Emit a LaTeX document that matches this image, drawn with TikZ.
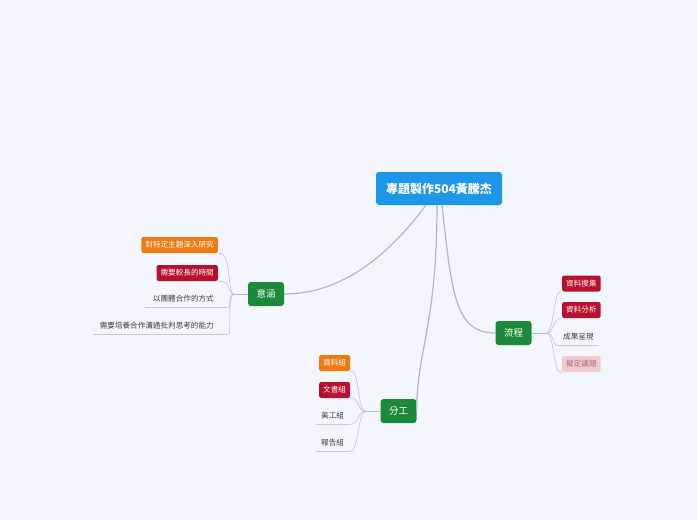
\documentclass[tikz,border=0pt]{standalone}
\usepackage{fontspec}
\setmainfont{Noto Sans CJK TC}
\definecolor{bgblue}{HTML}{F4F6FD}
\definecolor{rootblue}{HTML}{1E97E9}
\definecolor{topicgreen}{HTML}{1D8A3B}
\definecolor{leaforange}{HTML}{EF7B10}
\definecolor{leafred}{HTML}{B8112E}
\definecolor{leafpink}{HTML}{F1CBD0}
\definecolor{pinktext}{HTML}{A0707A}
\definecolor{linegrey}{HTML}{B4B7BC}
\definecolor{leafline}{HTML}{C8CBD2}
\tikzset{
  rootbox/.style={fill=rootblue, text=white, rounded corners=3pt, minimum width=126pt,
    minimum height=33pt, font=\fontsize{12}{14}\selectfont\bfseries},
  topicbox/.style={fill=topicgreen, text=white, rounded corners=3pt, minimum width=36pt,
    minimum height=24pt, font=\fontsize{9.5}{11}\selectfont},
  leafbox/.style={rounded corners=2pt, text=white, inner xsep=4pt, minimum height=16pt,
    font=\fontsize{7.6}{8}\selectfont},
  leafplain/.style={text=black!75, inner xsep=5pt, minimum height=16pt,
    font=\fontsize{7.6}{8}\selectfont},
  mainline/.style={draw=linegrey, line width=1.2pt},
  subline/.style={draw=leafline, line width=0.7pt}
}
\begin{document}
\begin{tikzpicture}[x=1pt, y=-1pt]
  % background
  \fill[bgblue] (0,0) rectangle (697,520);

  % root and main topics
  \node[rootbox] (root) at (439,188.5) {專題製作504黃騰杰};
  \node[topicbox] (yihan) at (266,294) {意涵};
  \node[topicbox] (fengong) at (398.5,411) {分工};
  \node[topicbox] (liucheng) at (513.5,333) {流程};

  \draw[mainline] ([xshift=-13pt]root.south) .. controls +(-45,60) and +(50,0) .. (yihan.east);
  \draw[mainline] ([xshift=-2pt]root.south) .. controls +(0,120) and +(0,-60) .. (fengong.east);
  \draw[mainline] ([xshift=3pt]root.south) .. controls +(10,90) and +(-40,0) .. (liucheng.west);

  % 意涵 leaves
  \node[leafbox, fill=leaforange, anchor=east] (yh1) at (218,245) {對特定主題深入研究};
  \node[leafbox, fill=leafred, anchor=east] (yh2) at (218,273) {需要較長的時間};
  \node[leafplain, anchor=east] (yh3) at (219,299) {以團體合作的方式};
  \node[leafplain, anchor=east] (yh4) at (219,326) {需要培養合作溝通批判思考的能力};
  \coordinate (yh1e) at (yh1.south east);
  \coordinate (yh2e) at (yh2.south east);
  \coordinate (yh3e) at ([xshift=8pt]yh3.south east);
  \coordinate (yh4e) at ([xshift=8pt]yh4.south east);
  \draw[subline] ([xshift=-3pt]yh3.south west) -- (yh3e);
  \draw[subline] ([xshift=-2pt]yh4.south west) -- (yh4e);
  \draw[mainline, line width=0.9pt] (yihan.west) -- ++(-14,0) coordinate (yhj);
  \foreach \c in {yh1e,yh2e,yh3e,yh4e}
    \draw[subline] (yhj) .. controls ([xshift=-6pt]yhj) and ([xshift=-3pt]yhj |- \c) .. ([xshift=2pt]\c) -- (\c);

  % 分工 leaves
  \node[leafbox, fill=leaforange, anchor=west] (fg1) at (319,363) {資料組};
  \node[leafbox, fill=leafred, anchor=west] (fg2) at (319,390) {文書組};
  \node[leafplain, anchor=west] (fg3) at (316,416) {美工組};
  \node[leafplain, anchor=west] (fg4) at (316,443) {報告組};
  \draw[subline] (fg3.south west) -- (fg3.south east);
  \draw[subline] (fg4.south west) -- (fg4.south east);
  \draw[mainline, line width=0.9pt] (fengong.west) -- ++(-15,0) coordinate (fgj);
  \foreach \c in {fg1,fg2,fg3,fg4}
    \draw[subline] (fgj) .. controls ([xshift=-7pt]fgj) and ([xshift=-7pt]fgj |- \c.south) .. ([xshift=2pt]\c.south east) -- (\c.south east);

  % 流程 leaves
  \node[leafbox, fill=leafred, anchor=west] (lc1) at (562,283.5) {資料搜集};
  \node[leafbox, fill=leafred, anchor=west] (lc2) at (562,310) {資料分析};
  \node[leafplain, anchor=west] (lc3) at (558,337) {成果呈現};
  \node[leafbox, fill=leafpink, text=pinktext, anchor=west] (lc4) at (562,364) {擬定議題};
  \draw[subline] (lc3.south west) -- (lc3.south east);
  \draw[mainline, line width=0.9pt] (liucheng.east) -- ++(15,0) coordinate (lcj);
  \foreach \c in {lc1,lc2,lc3,lc4}
    \draw[subline] (lcj) .. controls ([xshift=7pt]lcj) and ([xshift=7pt]lcj |- \c.south) .. ([xshift=-2pt]\c.south west) -- (\c.south west);
\end{tikzpicture}
\end{document}
